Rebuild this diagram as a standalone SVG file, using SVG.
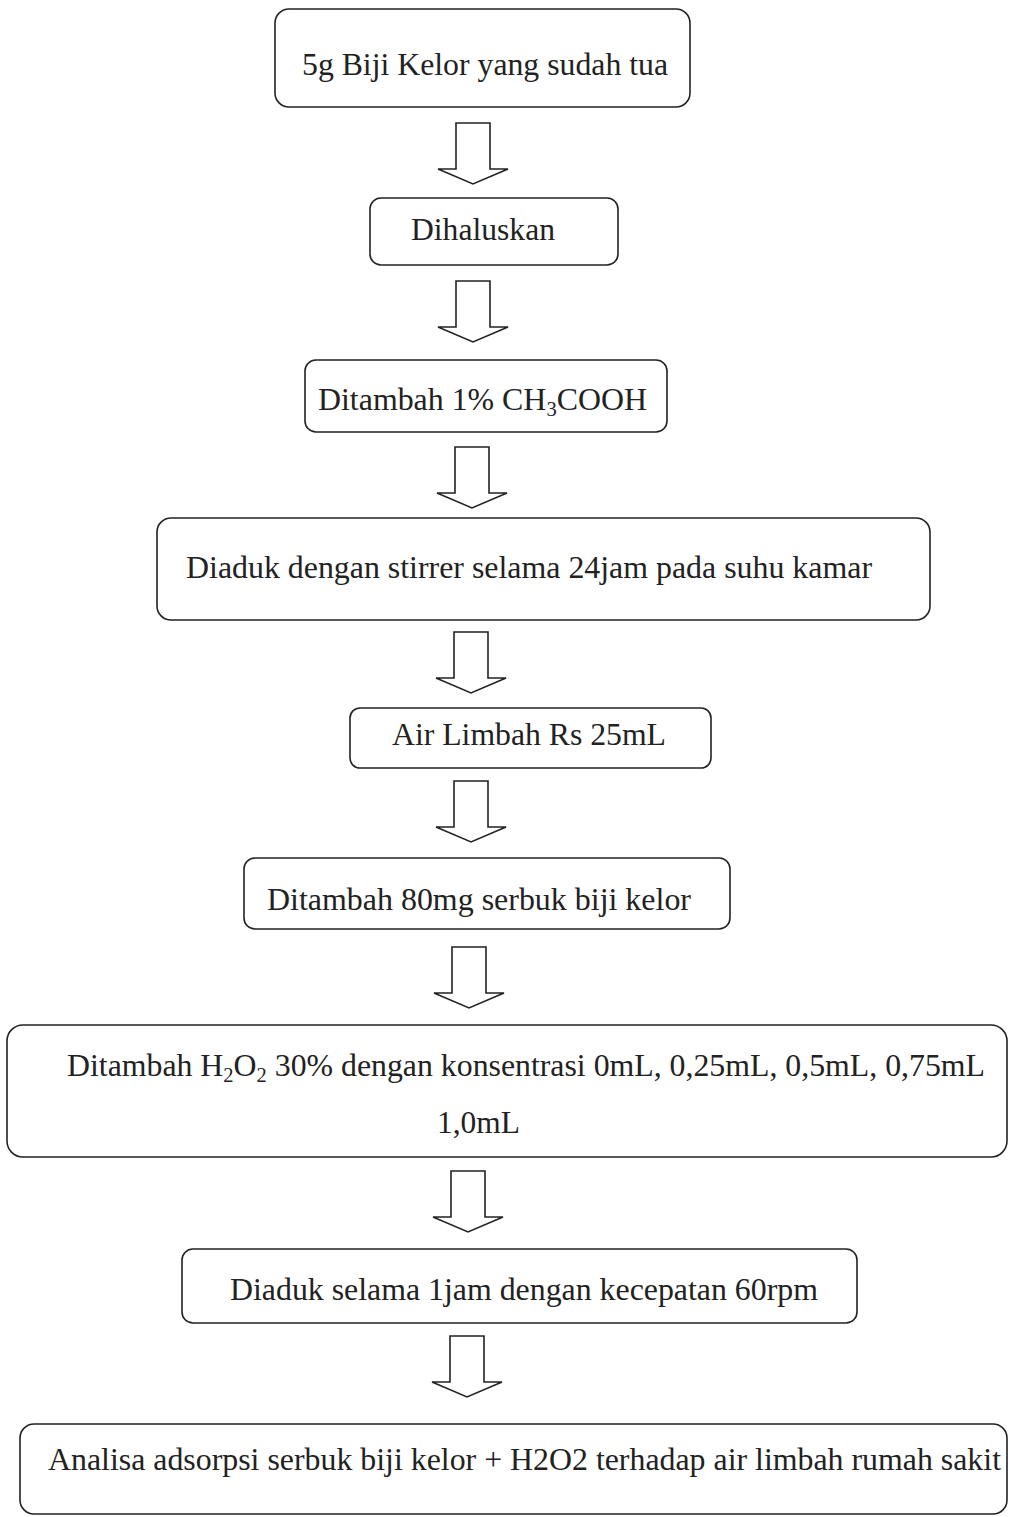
<svg xmlns="http://www.w3.org/2000/svg" width="1009" height="1517" viewBox="0 0 1009 1517">
<defs>
<style>
.box{fill:#fff;stroke:#222;stroke-width:1.6}
.t{font-family:"Liberation Serif","Times New Roman",serif;font-size:31px;fill:#222}
.arr{fill:#fff;stroke:#222;stroke-width:1.6;stroke-linejoin:miter}
</style>
<path id="arrow" d="M-17,0 H17 V46 H35 L0,61 L-35,46 H-17 Z"/>
</defs>
<rect width="1009" height="1517" fill="#fff"/>
<g id="connectors">
<use href="#arrow" class="arr" x="473" y="123"/>
<use href="#arrow" class="arr" x="473" y="281"/>
<use href="#arrow" class="arr" x="472" y="447"/>
<use href="#arrow" class="arr" x="471" y="632"/>
<use href="#arrow" class="arr" x="471" y="781"/>
<use href="#arrow" class="arr" x="469" y="947"/>
<use href="#arrow" class="arr" x="468" y="1171"/>
<use href="#arrow" class="arr" x="467" y="1336"/>
</g>
<g id="n1">
<rect class="box" x="275" y="9" width="415" height="98" rx="14"/>
<text class="t" x="302" y="75" textLength="366" lengthAdjust="spacingAndGlyphs">5g Biji Kelor yang sudah tua</text>
</g>
<g id="n2">
<rect class="box" x="370" y="198" width="248" height="67" rx="11"/>
<text class="t" x="411" y="240" textLength="144" lengthAdjust="spacingAndGlyphs">Dihaluskan</text>
</g>
<g id="n3">
<rect class="box" x="305" y="360" width="362" height="72" rx="11"/>
<text class="t" x="318" y="410" textLength="329" lengthAdjust="spacingAndGlyphs">Ditambah 1% CH<tspan font-size="20" dy="6">3</tspan><tspan dy="-6">COOH</tspan></text>
</g>
<g id="n4">
<rect class="box" x="157" y="518" width="773" height="102" rx="14"/>
<text class="t" x="186" y="578" textLength="686" lengthAdjust="spacingAndGlyphs">Diaduk dengan stirrer selama 24jam pada suhu kamar</text>
</g>
<g id="n5">
<rect class="box" x="350" y="708" width="361" height="60" rx="10"/>
<text class="t" x="392" y="745" textLength="274" lengthAdjust="spacingAndGlyphs">Air Limbah Rs 25mL</text>
</g>
<g id="n6">
<rect class="box" x="244" y="858" width="486" height="71" rx="11"/>
<text class="t" x="267" y="910" textLength="424" lengthAdjust="spacingAndGlyphs">Ditambah 80mg serbuk biji kelor</text>
</g>
<g id="n7">
<rect class="box" x="7" y="1025" width="1000" height="132" rx="16"/>
<text class="t" x="67" y="1076" textLength="918" lengthAdjust="spacingAndGlyphs">Ditambah H<tspan font-size="20" dy="6">2</tspan><tspan dy="-6">O</tspan><tspan font-size="20" dy="6">2</tspan><tspan dy="-6"> 30% dengan konsentrasi 0mL, 0,25mL, 0,5mL, 0,75mL</tspan></text>
<text class="t" x="437" y="1133" textLength="83" lengthAdjust="spacingAndGlyphs">1,0mL</text>
</g>
<g id="n8">
<rect class="box" x="182" y="1249" width="675" height="74" rx="11"/>
<text class="t" x="230" y="1300" textLength="588" lengthAdjust="spacingAndGlyphs">Diaduk selama 1jam dengan kecepatan 60rpm</text>
</g>
<g id="n9">
<rect class="box" x="20" y="1424" width="987" height="90" rx="14"/>
<text class="t" x="48" y="1470" textLength="953" lengthAdjust="spacingAndGlyphs">Analisa adsorpsi serbuk biji kelor + H2O2 terhadap air limbah rumah sakit</text>
</g>
</svg>
